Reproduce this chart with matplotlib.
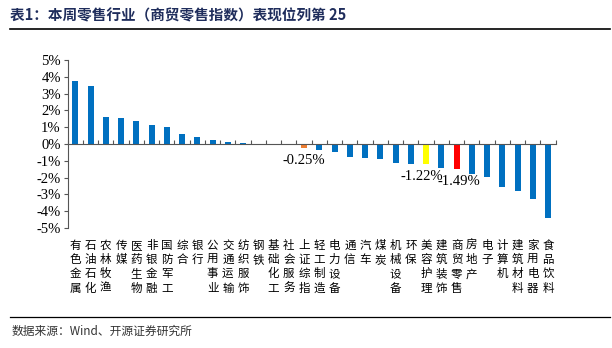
import matplotlib
matplotlib.use("Agg")
import matplotlib.pyplot as plt
import numpy as np

# data
names = ["有色金属", "石油石化", "农林牧渔", "传媒", "医药生物", "非银金融", "国防军工", "综合",
         "银行", "公用事业", "交通运输", "纺织服饰", "钢铁", "基础化工", "社会服务", "上证综指",
         "轻工制造", "电力设备", "通信", "汽车", "煤炭", "机械设备", "环保", "美容护理",
         "建筑装饰", "商贸零售", "房地产", "电子", "计算机", "建筑材料", "家用电器", "食品饮料"]
values = [3.77, 3.47, 1.63, 1.53, 1.39, 1.13, 1.03, 0.58,
          0.40, 0.24, 0.12, 0.05, 0.01, -0.05, -0.06, -0.25,
          -0.36, -0.46, -0.80, -0.86, -0.92, -1.15, -1.19, -1.22,
          -1.45, -1.49, -1.79, -1.94, -2.54, -2.78, -3.29, -4.39]
highlight = {"上证综指": "#ED7D31", "美容护理": "#FFFF00", "商贸零售": "#FF0000"}
labelled = ["上证综指", "美容护理", "商贸零售"]
yticks = [5, 4, 3, 2, 1, 0, -1, -2, -3, -4, -5]

serif = ["Liberation Serif", "Noto Sans CJK SC"]
cjk = ["Noto Sans CJK SC", "DejaVu Sans"]

fig = plt.figure(figsize=(6.12, 3.48), dpi=100)
ax = fig.add_axes([67.7 / 612, 1 - 228 / 348, (555.7 - 67.7) / 612, 168 / 348])

x = np.arange(len(names))
colors = [highlight.get(n, "#0070C0") for n in names]
ax.bar(x, values, width=0.4, color=colors, zorder=2)

ax.set_xlim(-0.5, len(names) - 0.5)
ax.set_ylim(-5, 5)
ax.set_yticks(yticks)
ax.set_yticklabels([f"{t}%" for t in yticks], family=serif, fontsize=10.5)
ax.tick_params(axis="y", direction="out", length=3, width=0.8, pad=2, color="#555555")

for s in ["top", "right"]:
    ax.spines[s].set_visible(False)
ax.spines["left"].set_color("#555555")
ax.spines["bottom"].set_position(("data", 0))
ax.spines["bottom"].set_color("#555555")
ax.set_xticks(np.arange(-0.5, len(names)), minor=False)
ax.set_xticklabels([])
ax.tick_params(axis="x", direction="in", length=3, width=0.8, color="#555555")

# vertical category labels at the bottom
for i, n in enumerate(names):
    ax.text(i, -0.065, "\n".join(n), transform=ax.get_xaxis_transform(),
            ha="center", va="top", fontsize=8.3, family=cjk, linespacing=1.12)

# value labels for highlighted bars
offsets = {"上证综指": (0, -4), "美容护理": (-3, -4), "商贸零售": (2, -4)}
for n in labelled:
    i = names.index(n)
    ax.annotate(f"{values[i]:.2f}%", (i, values[i]), xytext=offsets[n],
                textcoords="offset points", ha="center", va="top",
                fontsize=10.5, family=serif)

# title and source
fig.text(10 / 612, 1 - 15 / 348, "表1：本周零售行业（商贸零售指数）表现位列第 25",
         fontsize=10.5, fontweight="bold", color="#1F2D5C", family=cjk, va="center")
fig.add_artist(plt.Line2D([10 / 612, 610 / 612], [1 - 29 / 348] * 2, color="black", lw=1.2))
fig.add_artist(plt.Line2D([10 / 612, 610 / 612], [1 - 317 / 348] * 2, color="black", lw=0.9))
fig.text(12 / 612, 1 - 331 / 348, "数据来源：Wind、开源证券研究所",
         fontsize=8.5, color="#333333", family=cjk, va="center")

fig.savefig("out.png", dpi=100)
